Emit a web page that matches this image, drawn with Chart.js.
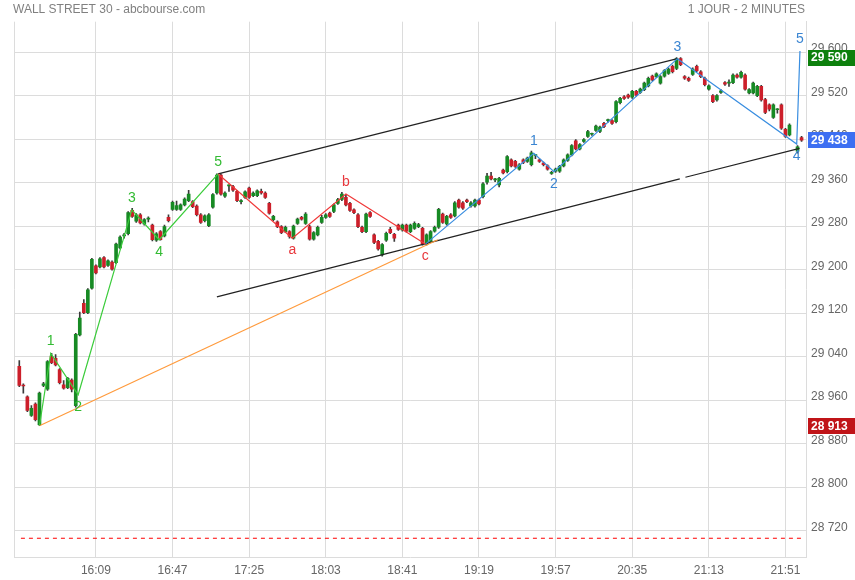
<!DOCTYPE html>
<html>
<head>
<meta charset="utf-8">
<script src="https://cdn.jsdelivr.net/npm/chart.js@4.4.1/dist/chart.umd.min.js"></script>
<style>
  body { margin: 0; background: #fff; }
  #wrap { width: 855px; height: 580px; }
</style>
</head>
<body>
<div id="wrap"><canvas id="myChart" width="855" height="580"></canvas></div>
<script>
// Bougies 2 minutes de 15:31 à 21:59 (index 0 = 15:31)
const opens = [
  29022, 28987, 28966, 28932, 28953, 28915, 28987, 28980, 29040, 29037,
  29016, 28988, 28983, 28997, 28950, 29080, 29138, 29121, 29166, 29207,
  29205, 29222, 29208, 29214, 29213, 29240, 29262, 29266, 29309, 29289,
  29301, 29284, 29293, 29282, 29254, 29270, 29262, 29296, 29311, 29311,
  29311, 29319, 29327, 29325, 29317, 29301, 29290, 29281, 29315, 29341,
  29374, 29335, 29354, 29353, 29344, 29325, 29333, 29350, 29336, 29336,
  29344, 29341, 29322, 29292, 29288, 29279, 29270, 29270, 29258, 29285,
  29296, 29285, 29279, 29256, 29264, 29287, 29296, 29304, 29307, 29322,
  29329, 29333, 29322, 29310, 29301, 29278, 29270, 29305, 29264, 29252,
  29227, 29254, 29274, 29265, 29282, 29273, 29282, 29270, 29276, 29279,
  29276, 29247, 29252, 29271, 29278, 29302, 29284, 29301, 29299, 29328,
  29323, 29328, 29317, 29317, 29328, 29334, 29361, 29372, 29365, 29356,
  29383, 29380, 29402, 29399, 29385, 29402, 29399, 29393, 29410, 29402,
  29396, 29391, 29377, 29381, 29381, 29391, 29401, 29411, 29437, 29422,
  29436, 29445, 29449, 29456, 29454, 29469, 29474, 29474, 29472, 29507,
  29518, 29521, 29517, 29528, 29526, 29531, 29538, 29556, 29555, 29543,
  29556, 29561, 29574, 29570, 29588, 29555, 29552, 29559, 29574, 29564,
  29552, 29532, 29520, 29512, 29526, 29544, 29543, 29544, 29558, 29554,
  29558, 29525, 29525, 29520, 29537, 29513, 29503, 29480, 29494, 29503,
  29458, 29448, null, 29418, 29443
];
const highs = [
  29033, 28990, 28968, 28950, 28955, 28975, 28993, 29033, 29046, 29044,
  29018, 28996, 29002, 28999, 29083, 29122, 29145, 29165, 29221, 29209,
  29222, 29224, 29218, 29216, 29249, 29262, 29267, 29307, 29313, 29303,
  29303, 29294, 29297, 29284, 29268, 29272, 29282, 29301, 29326, 29326,
  29321, 29332, 29346, 29327, 29319, 29303, 29301, 29303, 29340, 29376,
  29376, 29343, 29356, 29355, 29346, 29329, 29345, 29352, 29343, 29347,
  29348, 29343, 29324, 29300, 29290, 29281, 29280, 29272, 29282, 29295,
  29298, 29305, 29282, 29270, 29280, 29300, 29303, 29306, 29321, 29331,
  29342, 29338, 29324, 29312, 29303, 29280, 29304, 29307, 29266, 29254,
  29248, 29269, 29278, 29267, 29284, 29284, 29284, 29284, 29288, 29285,
  29278, 29266, 29272, 29280, 29313, 29304, 29300, 29303, 29325, 29330,
  29325, 29330, 29325, 29330, 29330, 29360, 29377, 29379, 29368, 29370,
  29385, 29410, 29404, 29401, 29395, 29404, 29407, 29418, 29412, 29404,
  29398, 29393, 29381, 29387, 29392, 29404, 29413, 29430, 29439, 29432,
  29441, 29456, 29451, 29466, 29464, 29471, 29477, 29476, 29511, 29517,
  29520, 29523, 29530, 29530, 29534, 29545, 29554, 29558, 29562, 29557,
  29568, 29571, 29576, 29590, 29590, 29557, 29554, 29571, 29576, 29566,
  29554, 29540, 29522, 29522, 29531, 29546, 29549, 29560, 29560, 29565,
  29560, 29533, 29545, 29539, 29539, 29515, 29505, 29505, 29496, 29505,
  29460, 29468, null, 29428, 29445
];
const lows = [
  28985, 28973, 28939, 28930, 28922, 28913, 28985, 28978, 29027, 29023,
  28990, 28980, 28981, 28975, 28947, 29078, 29119, 29119, 29164, 29192,
  29203, 29203, 29206, 29199, 29211, 29238, 29258, 29264, 29296, 29287,
  29284, 29282, 29288, 29253, 29252, 29254, 29260, 29288, 29309, 29309,
  29309, 29317, 29325, 29314, 29299, 29285, 29288, 29279, 29313, 29339,
  29337, 29333, 29344, 29344, 29325, 29321, 29331, 29331, 29334, 29334,
  29339, 29331, 29302, 29290, 29277, 29266, 29268, 29258, 29256, 29283,
  29291, 29283, 29254, 29254, 29262, 29285, 29294, 29296, 29305, 29320,
  29327, 29317, 29307, 29303, 29277, 29268, 29268, 29296, 29248, 29236,
  29225, 29252, 29266, 29252, 29272, 29271, 29269, 29268, 29274, 29277,
  29245, 29245, 29250, 29269, 29276, 29285, 29282, 29294, 29297, 29313,
  29311, 29323, 29315, 29315, 29319, 29332, 29357, 29365, 29362, 29352,
  29376, 29378, 29389, 29388, 29383, 29395, 29397, 29391, 29404, 29397,
  29391, 29383, 29375, 29379, 29379, 29389, 29399, 29409, 29420, 29420,
  29434, 29443, 29447, 29454, 29452, 29461, 29471, 29467, 29470, 29505,
  29513, 29515, 29515, 29519, 29524, 29529, 29536, 29547, 29553, 29541,
  29554, 29559, 29562, 29568, 29575, 29550, 29546, 29557, 29564, 29553,
  29538, 29530, 29507, 29510, 29524, 29539, 29537, 29542, 29552, 29552,
  29530, 29523, 29523, 29518, 29510, 29487, 29492, 29478, 29488, 29458,
  29443, 29446, null, 29414, 29436
];
const closes = [
  28987, 28986, 28941, 28945, 28924, 28973, 28990, 29031, 29029, 29025,
  28992, 28982, 29000, 28980, 29081, 29111, 29121, 29163, 29219, 29194,
  29220, 29205, 29216, 29201, 29247, 29260, 29264, 29305, 29298, 29301,
  29286, 29292, 29294, 29255, 29266, 29255, 29279, 29290, 29324, 29318,
  29319, 29330, 29339, 29316, 29301, 29287, 29299, 29301, 29338, 29374,
  29339, 29341, 29355, 29346, 29327, 29325, 29343, 29333, 29341, 29345,
  29341, 29333, 29304, 29298, 29279, 29268, 29278, 29261, 29280, 29293,
  29293, 29302, 29256, 29268, 29278, 29296, 29301, 29298, 29319, 29329,
  29339, 29319, 29309, 29305, 29279, 29270, 29302, 29298, 29250, 29238,
  29246, 29267, 29268, 29258, 29274, 29282, 29271, 29282, 29285, 29283,
  29247, 29264, 29270, 29278, 29311, 29287, 29298, 29296, 29323, 29315,
  29313, 29325, 29323, 29328, 29321, 29358, 29372, 29367, 29366, 29368,
  29378, 29408, 29391, 29390, 29393, 29397, 29405, 29415, 29411, 29399,
  29393, 29385, 29379, 29385, 29390, 29402, 29411, 29428, 29422, 29430,
  29439, 29454, 29450, 29464, 29462, 29463, 29475, 29469, 29509, 29515,
  29515, 29517, 29528, 29521, 29532, 29543, 29552, 29549, 29560, 29555,
  29566, 29569, 29564, 29588, 29577, 29552, 29548, 29569, 29566, 29555,
  29540, 29538, 29509, 29520, 29529, 29541, 29544, 29558, 29554, 29563,
  29532, 29531, 29543, 29537, 29512, 29489, 29495, 29503, 29495, 29460,
  29445, 29466, null, 29426, 29438
];

const firstCandle = '15:31';
const tickLabels = ['16:09', '16:47', '17:25', '18:03', '18:41', '19:19', '19:57', '20:35', '21:13', '21:51'];
const yTicks = [28720, 28800, 28880, 28960, 29040, 29120, 29200, 29280, 29360, 29440, 29520, 29600];

// Vagues d'Elliott (x = index de bougie)
const greenX = [5, 7.8, 14.6, 27.9, 34.7, 49.3];
const greenY = [28913, 29046, 28970, 29310, 29255, 29376];
const greenTags = ['', '1', '2', '3', '4', '5'];
const redX = [49.3, 67.7, 81, 100.7];
const redY = [29376, 29258, 29339, 29247];
const redTags = ['', 'a', 'b', 'c'];
const blueX = [100.7, 127.6, 132.6, 163.2, 192.8, 193.6];
const blueY = [29247, 29414, 29380, 29588, 29431, 29602];
const blueTags = ['', '1', '2', '3', '4', '5'];
const orangeX = [5, 103.8];
const orangeY = [28913, 29255];
const chanTopX = [49.3, 163.2];
const chanTopY = [29376, 29588];
const chanLowX = [49, 163.8, 164.5, 165.2, 193.5];
const chanLowY = [29150, 29367, null, 29370, 29423];
const stopLevel = 28706;
const stopX = [0.4, 194.1];

const dayHigh = 29590;
const lastPrice = 29438;
const dayLow = 28913;

const GREEN = '#178a24', RED = '#cc1f2a';

function toMinutes(s) { const p = s.split(':'); return +p[0] * 60 + +p[1]; }
function fmt(v) { return String(v).replace(/\B(?=(\d{3})+(?!\d))/g, ' '); }
function pts(xs, ys) { return xs.map((x, k) => ({ x: x, y: ys[k] })); }

const t0 = toMinutes(firstCandle);
const tickIdx = tickLabels.map(l => (toMinutes(l) - t0) / 2);

const wickData = [], bodyData = [], bodyColors = [];
opens.forEach((o, i) => {
  if (o === null) return;
  wickData.push({ x: i, y: [lows[i], highs[i]] });
  bodyData.push({ x: i, y: [o, closes[i]] });
  bodyColors.push(closes[i] >= o ? GREEN : RED);
});

const waves = [
  { xs: greenX, ys: greenY, tags: greenTags, color: '#33bb33' },
  { xs: redX, ys: redY, tags: redTags, color: '#e8383d' },
  { xs: blueX, ys: blueY, tags: blueTags, color: '#3a85d2' }
];

function lineDs(data, color, extra) {
  return Object.assign({
    type: 'line', data: data, borderColor: color, borderWidth: 1.2,
    pointRadius: 0, fill: false, tension: 0, order: 0
  }, extra || {});
}

// Titre et libellés de vagues
const header = {
  id: 'header',
  afterDraw(chart) {
    const ctx = chart.ctx;
    ctx.save();
    ctx.font = '12px "Liberation Sans", Arial, sans-serif';
    ctx.fillStyle = '#808080';
    ctx.textBaseline = 'middle';
    ctx.textAlign = 'left';
    ctx.fillText('WALL STREET 30 - abcbourse.com', 13, 9.5);
    ctx.textAlign = 'right';
    ctx.fillText('1 JOUR - 2 MINUTES', 805, 9.5);
    ctx.restore();
  }
};

const waveLabels = {
  id: 'waveLabels',
  afterDatasetsDraw(chart) {
    const { ctx, scales: { x, y } } = chart;
    ctx.save();
    ctx.font = '14px "Liberation Sans", Arial, sans-serif';
    ctx.textAlign = 'center';
    ctx.textBaseline = 'middle';
    waves.forEach(w => {
      ctx.fillStyle = w.color;
      w.xs.forEach((xv, k) => {
        if (!w.tags[k]) return;
        const below = w.ys[k] < w.ys[k - 1];
        const px = x.getPixelForValue(xv);
        const py = y.getPixelForValue(w.ys[k]) + (below ? 12 : -12);
        ctx.fillText(w.tags[k], px, py);
      });
    });
    ctx.restore();
  }
};

const priceTags = {
  id: 'priceTags',
  afterDraw(chart) {
    const { ctx, chartArea, scales: { y } } = chart;
    const tags = [[dayHigh, '#0d800d'], [lastPrice, '#3d6ff2'], [dayLow, '#c01418']];
    ctx.save();
    ctx.font = 'bold 12px "Liberation Sans", Arial, sans-serif';
    ctx.textBaseline = 'middle';
    ctx.textAlign = 'left';
    tags.forEach(t => {
      const py = y.getPixelForValue(t[0]);
      ctx.fillStyle = t[1];
      ctx.fillRect(chartArea.right + 2, Math.round(py - 8), 49, 16);
      ctx.fillStyle = '#fff';
      ctx.fillText(fmt(t[0]), chartArea.right + 5, py + 0.5);
    });
    ctx.restore();
  }
};

const ctx = document.getElementById('myChart').getContext('2d');
new Chart(ctx, {
  type: 'bar',
  data: {
    datasets: [
      lineDs(pts(greenX, greenY), '#3ccc3c'),
      lineDs(pts(redX, redY), '#f03a3a'),
      lineDs(pts(blueX, blueY), '#3a8ee0'),
      lineDs(pts(orangeX, orangeY), '#ff9a3c'),
      lineDs(pts(chanTopX, chanTopY), '#222'),
      lineDs(pts(chanLowX, chanLowY), '#222', { spanGaps: false }),
      lineDs(pts(stopX, [stopLevel, stopLevel]), '#ff0000', { borderDash: [4, 4] }),
      {
        type: 'bar', data: bodyData, backgroundColor: bodyColors,
        barThickness: 3, minBarLength: 1, grouped: false, order: 1
      },
      {
        type: 'bar', data: wickData, backgroundColor: '#3a3a3a',
        barThickness: 1, minBarLength: 1, grouped: false, order: 2
      }
    ]
  },
  options: {
    responsive: false,
    animation: false,
    devicePixelRatio: 1,
    layout: { padding: { left: 14.3, top: 21.7, right: 0, bottom: 0 } },
    plugins: { legend: { display: false }, tooltip: { enabled: false } },
    scales: {
      x: {
        type: 'linear',
        min: -1.24,
        max: 195.1,
        offset: false,
        afterFit: s => { s.height = 22.7; },
        afterBuildTicks: s => {
          s.ticks = [{ value: s.min }].concat(tickIdx.map(v => ({ value: v })));
        },
        ticks: {
          autoSkip: false, maxRotation: 0, padding: 6,
          color: '#666',
          font: { family: '"Liberation Sans", Arial, sans-serif', size: 12 },
          callback: (v, i) => (i === 0 ? '' : tickLabels[i - 1])
        },
        grid: { color: '#dcdcdc', drawTicks: false, offset: false },
        border: { display: true, color: '#dcdcdc' }
      },
      y: {
        type: 'linear',
        position: 'right',
        min: 28671,
        max: 29656,
        afterFit: s => { s.width = 49; },
        afterBuildTicks: s => { s.ticks = yTicks.map(v => ({ value: v })); },
        ticks: {
          padding: 5, labelOffset: -3,
          color: '#666',
          font: { family: '"Liberation Sans", Arial, sans-serif', size: 12 },
          callback: v => fmt(v)
        },
        grid: { color: '#dcdcdc', drawTicks: false },
        border: { display: true, color: '#dcdcdc' }
      }
    }
  },
  plugins: [header, waveLabels, priceTags]
});
</script>
</body>
</html>
